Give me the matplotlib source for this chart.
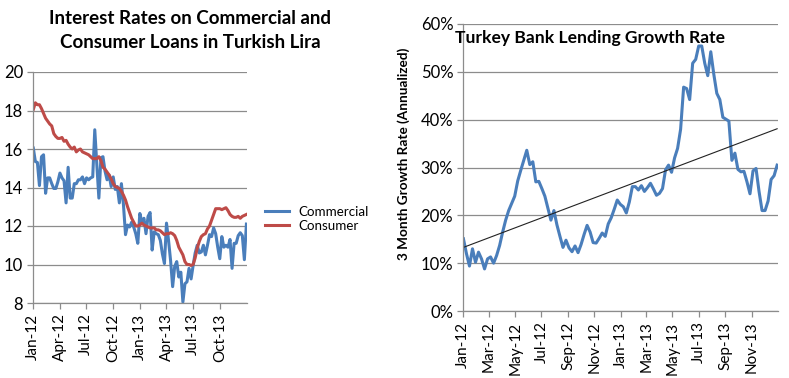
import matplotlib
matplotlib.use('Agg')
import matplotlib.pyplot as plt
import matplotlib.dates as mdates
from matplotlib.ticker import FuncFormatter
import pandas as pd

plt.rcParams['font.family'] = ['Lato', 'DejaVu Sans']

""" DATA """

# weekly observations, Jan 2012 - Dec 2013
weeks = pd.date_range('2012-01-02', periods=105, freq='7D')

commercial = [
    16.05, 15.35, 15.3, 14.1, 15.6, 15.7, 13.7, 14.5, 14.5, 14.2,
    13.95, 13.95, 14.3, 14.75, 14.5, 14.35, 13.2, 15.05, 13.45, 13.45,
    14.2, 14.2, 14.4, 14.4, 14.55, 14.2, 14.5, 14.4, 14.5, 14.55,
    17.0, 15.2, 13.45, 15.55, 15.6, 14.85, 14.4, 14.65, 14.05, 14.55,
    13.9, 14.05, 13.2, 14.2, 13.1, 11.55, 12.05, 11.95, 12.2, 11.95,
    11.6, 11.1, 12.65, 12.2, 12.4, 11.6, 12.5, 12.7, 10.75, 11.7,
    11.6, 11.55, 11.25, 10.55, 10.05, 12.15, 11.25, 10.2, 8.85, 9.9,
    10.15, 9.35, 9.6, 8.05, 9.0, 9.1, 9.8, 9.25, 9.95, 10.6,
    11.0, 10.6, 10.65, 11.0, 10.5, 11.0, 11.55, 11.45, 11.9, 11.6,
    10.9, 10.3, 11.45, 10.9, 11.0, 10.9, 11.3, 9.8, 11.1, 11.1,
    11.5, 11.65, 11.5, 10.25, 12.1,
]

consumer = [
    18.05, 18.4, 18.3, 18.3, 18.1, 17.85, 17.6, 17.45, 17.3, 17.2,
    16.8, 16.65, 16.55, 16.55, 16.6, 16.4, 16.45, 16.25, 16.1, 16.0,
    16.1, 15.85, 15.95, 16.0, 15.85, 15.8, 15.75, 15.7, 15.6, 15.5,
    15.5, 15.5, 15.6, 15.4, 15.05, 14.95, 14.8, 14.65, 14.45, 14.2,
    14.05, 14.0, 13.95, 13.8, 13.6, 13.35, 13.0, 12.7, 12.4, 12.2,
    12.0, 12.0, 12.05, 12.15, 12.05, 12.0, 11.95, 11.9, 11.9, 11.9,
    11.8, 11.8, 11.75, 11.65, 11.55, 11.6, 11.6, 11.65, 11.6, 11.5,
    11.25, 10.9, 10.7, 10.5, 10.15, 10.0, 10.0, 9.95, 10.0, 10.35,
    10.85, 11.2, 11.45, 11.55, 11.6, 11.85, 12.0, 12.3, 12.6, 12.9,
    12.9, 12.9, 12.85, 12.9, 12.95, 12.8, 12.6, 12.5, 12.45, 12.45,
    12.5, 12.4, 12.5, 12.55, 12.6,
]

# 3 month growth rate (annualized), percent
lending_growth = [
    15.1, 12.0, 9.4, 13.0, 10.2, 12.3, 10.9, 8.8, 10.9, 11.3,
    10.0, 11.6, 13.7, 16.5, 19.0, 21.0, 22.5, 24.0, 27.2, 29.4,
    31.5, 33.6, 30.6, 31.2, 27.0, 27.1, 25.6, 24.0, 21.5, 19.0,
    21.0, 18.0, 15.6, 13.3, 14.8, 13.2, 12.4, 13.6, 12.2, 13.9,
    16.0, 17.9, 16.5, 14.3, 14.2, 15.2, 16.3, 15.6, 18.2, 19.5,
    21.3, 23.2, 22.3, 21.8, 20.5, 22.8, 26.0, 26.0, 25.3, 26.2,
    25.0, 25.8, 26.7, 25.5, 24.2, 24.6, 25.6, 29.5, 30.5, 29.0,
    32.0, 34.0, 38.0, 46.8, 46.5, 44.2, 51.8, 52.6, 55.4, 55.4,
    51.8, 49.2, 54.2, 49.5, 45.5, 44.2, 40.5, 40.1, 39.7, 31.5,
    33.0, 29.6, 29.1, 29.2, 27.0, 24.5, 29.3, 29.8, 25.0, 21.0,
    21.0, 23.0, 27.5, 28.3, 30.5,
]

# linear trendline (Excel), value at first and last week
trend_ends = [13.3, 38.1]

x_start, x_end = pd.Timestamp('2012-01-01'), pd.Timestamp('2014-01-01')

""" PLOTTING """

blue = '#4A7EBB'
red = '#BE4B48'
grid_c = '#8C8C8C'

fig = plt.figure(figsize=(7.89, 3.78), dpi=100)


def style_axes(ax):
    ax.spines['top'].set_visible(False)
    ax.spines['right'].set_visible(False)
    for s in ('left', 'bottom'):
        ax.spines[s].set_color(grid_c)
        ax.spines[s].set_linewidth(0.9)
    ax.grid(axis='y', color=grid_c, linewidth=0.9)
    ax.set_axisbelow(True)
    ax.tick_params(axis='both', colors=grid_c, length=4, width=0.9,
                   labelcolor='black')
    ax.tick_params(axis='y', labelsize=12, pad=3)
    ax.tick_params(axis='x', labelrotation=90, labelsize=11)
    ax.xaxis.set_major_formatter(mdates.DateFormatter('%b-%y'))
    ax.set_xlim(x_start, x_end)


# left: interest rates
ax1 = fig.add_axes([33 / 789, 75 / 378, 214 / 789, 231 / 378])
ax1.plot(weeks, commercial, color=blue, lw=2.2, label='Commercial')
ax1.plot(weeks, consumer, color=red, lw=2.2, label='Consumer')
ax1.set_ylim(8, 20)
ax1.set_yticks(range(8, 21, 2))
ax1.xaxis.set_major_locator(mdates.MonthLocator(bymonth=[1, 4, 7, 10]))
style_axes(ax1)
ax1.set_xticks([t for t in ax1.get_xticks() if t < mdates.date2num(x_end)])

fig.legend(loc='center left', bbox_to_anchor=(265 / 789, 1 - 219 / 378),
           frameon=False, fontsize=9.6, handlelength=1.8,
           handletextpad=0.7, labelspacing=0.15, borderpad=0,
           borderaxespad=0)

fig.text(190 / 789, 1 - 18 / 378, 'Interest Rates on Commercial and',
         ha='center', va='center', fontsize=13.5, fontweight='bold')
fig.text(190 / 789, 1 - 43 / 378, 'Consumer Loans in Turkish Lira',
         ha='center', va='center', fontsize=13.5, fontweight='bold')

# right: lending growth
ax2 = fig.add_axes([463 / 789, 67 / 378, 315 / 789, 287 / 378])
ax2.plot(weeks, lending_growth, color=blue, lw=2.2)
ax2.plot([weeks[0], weeks[-1]], trend_ends, color='#222222', lw=0.8)
ax2.set_ylim(0, 60)
ax2.set_yticks(range(0, 61, 10))
ax2.yaxis.set_major_formatter(FuncFormatter(lambda v, p: '%d%%' % v))
ax2.xaxis.set_major_locator(mdates.MonthLocator(bymonth=[1, 3, 5, 7, 9, 11]))
style_axes(ax2)
ax2.set_xticks([t for t in ax2.get_xticks() if t < mdates.date2num(x_end)])

fig.text(404 / 789, 1 - 154 / 378, '3 Month Growth Rate (Annualized)',
         rotation=90, ha='center', va='center', fontsize=9.8,
         fontweight='bold')
fig.text(455 / 789, 1 - 38 / 378, 'Turkey Bank Lending Growth Rate',
         ha='left', va='center', fontsize=12.6, fontweight='bold')

plt.savefig('out.png', dpi=100)
